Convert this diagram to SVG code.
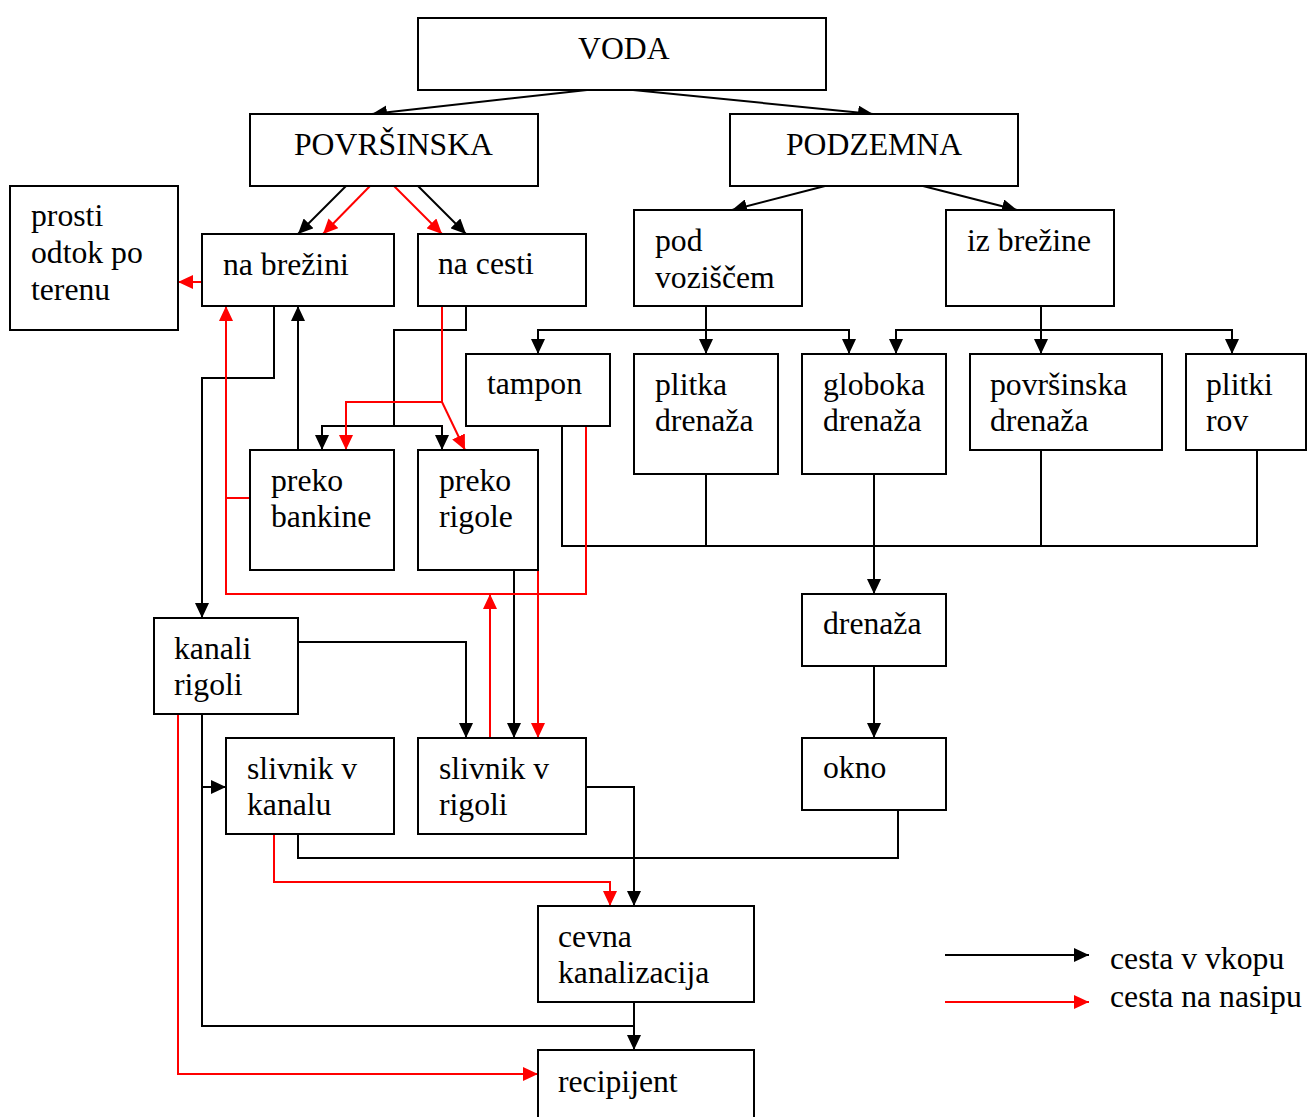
<svg xmlns="http://www.w3.org/2000/svg" width="1307" height="1117" viewBox="0 0 1307 1117">
<style>
rect.n{fill:#fff;stroke:#000;stroke-width:2}
text{font-family:"Liberation Serif","Times New Roman",serif;font-size:31.7px;fill:#000}
.k{fill:none;stroke:#000;stroke-width:2}
.r{fill:none;stroke:#f00;stroke-width:2}
.ka{marker-end:url(#ak)}
.ra{marker-end:url(#ar)}
</style>
<defs>
<marker id="ak" markerUnits="userSpaceOnUse" markerWidth="16" markerHeight="14" refX="15" refY="7" orient="auto"><path d="M0,0 L15,7 L0,14 z" fill="#000"/></marker>
<marker id="ar" markerUnits="userSpaceOnUse" markerWidth="16" markerHeight="14" refX="15" refY="7" orient="auto"><path d="M0,0 L15,7 L0,14 z" fill="#f00"/></marker>
</defs>
<rect width="1307" height="1117" fill="#fff"/>
<g id="connectors">
<path class="k ka" d="M587,90 L372,114"/>
<path class="k ka" d="M633,90 L873,114"/>
<path class="k ka" d="M346,186 L298,234"/>
<path class="k ka" d="M418,186 L466,234"/>
<path class="k ka" d="M825,186 L732,210"/>
<path class="k ka" d="M923,186 L1017,210"/>
<path class="k ka" d="M706,306 V354"/>
<path class="k ka" d="M706,330 H538 V354"/>
<path class="k ka" d="M706,330 H849 V354"/>
<path class="k ka" d="M1041,306 V354"/>
<path class="k ka" d="M1041,330 H896 V354"/>
<path class="k ka" d="M1041,330 H1232 V354"/>
<path class="k" d="M562,426 V546 H1257 V450"/>
<path class="k" d="M706,474 V546"/>
<path class="k" d="M1041,450 V546"/>
<path class="k ka" d="M874,474 V594"/>
<path class="k ka" d="M874,666 V738"/>
<path class="k" d="M898,810 V858 H298 V834"/>
<path class="k ka" d="M274,306 V378 H202 V618"/>
<path class="k ka" d="M298,450 V306"/>
<path class="k" d="M466,306 V330 H394 V426"/>
<path class="k ka" d="M394,426 H322 V450"/>
<path class="k ka" d="M394,426 H442 V450"/>
<path class="k ka" d="M514,570 V738"/>
<path class="k ka" d="M298,642 H466 V738"/>
<path class="k" d="M202,714 V1026 H634"/>
<path class="k ka" d="M202,787 H226"/>
<path class="k ka" d="M586,787 H634 V906"/>
<path class="k ka" d="M634,1002 V1050"/>
<path class="r ra" d="M370,186 L323,234"/>
<path class="r ra" d="M394,186 L442,234"/>
<path class="r ra" d="M202,282 H178"/>
<path class="r ra" d="M442,306 V402 H346 V450"/>
<path class="r ra" d="M442,402 L465,450"/>
<path class="r ra" d="M586,426 V594 H226 V306"/>
<path class="r" d="M250,498 H226"/>
<path class="r ra" d="M490,738 V594"/>
<path class="r ra" d="M538,570 V738"/>
<path class="r ra" d="M274,834 V882 H610 V906"/>
<path class="r ra" d="M178,714 V1074 H538"/>
</g>
<g id="voda"><rect class="n" x="418" y="18" width="408" height="72"/><text x="578" y="59">VODA</text></g>
<g id="povrsinska"><rect class="n" x="250" y="114" width="288" height="72"/><text x="294" y="155">POVRŠINSKA</text></g>
<g id="podzemna"><rect class="n" x="730" y="114" width="288" height="72"/><text x="786" y="155">PODZEMNA</text></g>
<g id="prosti"><rect class="n" x="10" y="186" width="168" height="144"/><text x="31" y="226">prosti</text><text x="31" y="263">odtok po</text><text x="31" y="300">terenu</text></g>
<g id="na-brezini"><rect class="n" x="202" y="234" width="192" height="72"/><text x="223" y="275">na brežini</text></g>
<g id="na-cesti"><rect class="n" x="418" y="234" width="168" height="72"/><text x="438" y="274">na cesti</text></g>
<g id="pod-voziscem"><rect class="n" x="634" y="210" width="168" height="96"/><text x="655" y="251">pod</text><text x="655" y="288">voziščem</text></g>
<g id="iz-brezine"><rect class="n" x="946" y="210" width="168" height="96"/><text x="967" y="251">iz brežine</text></g>
<g id="tampon"><rect class="n" x="466" y="354" width="144" height="72"/><text x="487" y="394">tampon</text></g>
<g id="plitka"><rect class="n" x="634" y="354" width="144" height="120"/><text x="655" y="395">plitka</text><text x="655" y="431">drenaža</text></g>
<g id="globoka"><rect class="n" x="802" y="354" width="144" height="120"/><text x="823" y="395">globoka</text><text x="823" y="431">drenaža</text></g>
<g id="povrsinska-drenaza"><rect class="n" x="970" y="354" width="192" height="96"/><text x="990" y="395">površinska</text><text x="990" y="431">drenaža</text></g>
<g id="plitki-rov"><rect class="n" x="1186" y="354" width="120" height="96"/><text x="1206" y="395">plitki</text><text x="1206" y="431">rov</text></g>
<g id="preko-bankine"><rect class="n" x="250" y="450" width="144" height="120"/><text x="271" y="491">preko</text><text x="271" y="527">bankine</text></g>
<g id="preko-rigole"><rect class="n" x="418" y="450" width="120" height="120"/><text x="439" y="491">preko</text><text x="439" y="527">rigole</text></g>
<g id="drenaza"><rect class="n" x="802" y="594" width="144" height="72"/><text x="823" y="634">drenaža</text></g>
<g id="kanali-rigoli"><rect class="n" x="154" y="618" width="144" height="96"/><text x="174" y="659">kanali</text><text x="174" y="695">rigoli</text></g>
<g id="slivnik-kanalu"><rect class="n" x="226" y="738" width="168" height="96"/><text x="247" y="779">slivnik v</text><text x="247" y="815">kanalu</text></g>
<g id="slivnik-rigoli"><rect class="n" x="418" y="738" width="168" height="96"/><text x="439" y="779">slivnik v</text><text x="439" y="815">rigoli</text></g>
<g id="okno"><rect class="n" x="802" y="738" width="144" height="72"/><text x="823" y="778">okno</text></g>
<g id="cevna"><rect class="n" x="538" y="906" width="216" height="96"/><text x="558" y="947">cevna</text><text x="558" y="983">kanalizacija</text></g>
<g id="recipijent"><rect class="n" x="538" y="1050" width="216" height="80"/><text x="558" y="1092">recipijent</text></g>
<g id="legend">
<path class="k ka" d="M945,955 H1089"/>
<path class="r ra" d="M945,1002 H1089"/>
<text x="1110" y="969">cesta v vkopu</text>
<text x="1110" y="1007">cesta na nasipu</text>
</g>
</svg>
